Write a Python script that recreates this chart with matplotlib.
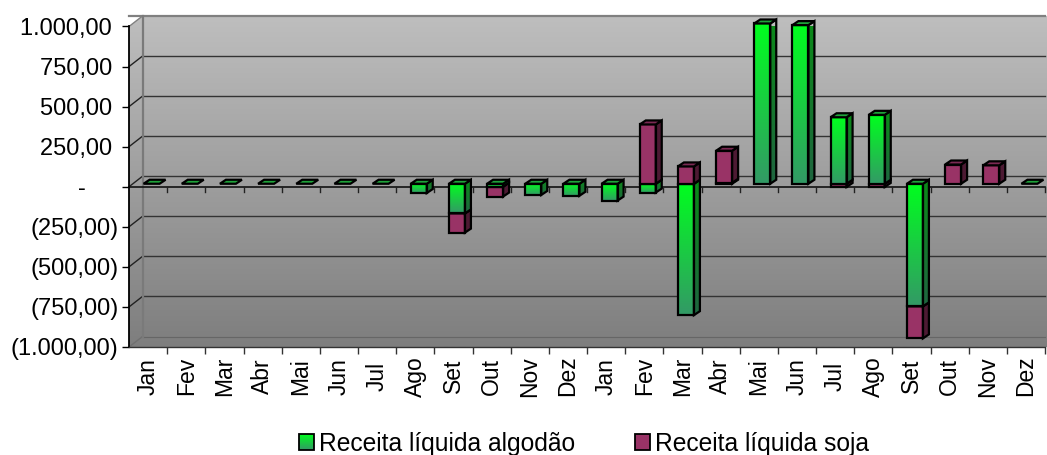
import numpy as np
import matplotlib
matplotlib.use('Agg')
import matplotlib.pyplot as plt
from matplotlib.patches import Polygon, Patch
from matplotlib.colors import LinearSegmentedColormap

plt.rcParams['font.family'] = ['Liberation Sans', 'DejaVu Sans']

months = ['Jan','Fev','Mar','Abr','Mai','Jun','Jul','Ago','Set','Out','Nov','Dez',
          'Jan','Fev','Mar','Abr','Mai','Jun','Jul','Ago','Set','Out','Nov','Dez']
algodao = [0,0,0,0,0,0,0,-58,-185,-18,-70,-75,-105,-55,-820,6,1000,990,415,430,-765,0,0,0]
soja    = [0,0,0,0,0,0,0,0,-120,-62,0,0,0,370,108,200,0,0,-20,-20,-200,120,115,0]
yticks = [1000,750,500,250,0,-250,-500,-750,-1000]
ylabels = ['1.000,00 ','750,00 ','500,00 ','250,00 ','-     ','(250,00)','(500,00)','(750,00)','(1.000,00)']
series_names = ['Receita líquida algodão', 'Receita líquida soja']

W, H = 1047, 455
L, R, T, B = 129, 1045, 26.5, 347
fig = plt.figure(figsize=(W/100, H/100), dpi=100)

# background layer in pixel coordinates: the 3D walls
bg = fig.add_axes([0, 0, 1, 1], zorder=0)
bg.set_xlim(0, W); bg.set_ylim(H, 0); bg.axis('off')
wall = LinearSegmentedColormap.from_list('wall', ['#BEBEBE', '#7E7E7E'])
DX, DY = 13.5, -10.5
grad = np.linspace(0, 1, 256)[:, None]
im = bg.imshow(grad, cmap=wall, extent=(L, W, B, T+DY), aspect='auto', zorder=1)
clip = Polygon([(L, T), (L+DX, T+DY), (W, T+DY), (W, B), (L, B)], closed=True,
               transform=bg.transData, fill=False, ec='none')
bg.add_patch(clip)
im.set_clip_path(clip)
bg.set_xlim(0, W); bg.set_ylim(H, 0)

ax = fig.add_axes([L/W, 1-B/H, (R-L)/W, (B-T)/H], zorder=2)
ax.patch.set_alpha(0)
n = len(months)
ax.set_xlim(0, n); ax.set_ylim(-1000, 1000)
px = n/(R-L)              # data x units per pixel
py = 2000/(B-T)           # data y units per pixel

# walls' grid
for v in yticks:
    bk = v - DY*py
    if v == 1000:
        ax.plot([0, n], [bk, bk], color='#808080', lw=1.6, clip_on=False, zorder=1)
    elif v == -1000:
        ax.plot([DX*px, n], [bk, bk], color='#666666', lw=0.8, clip_on=False, zorder=1)
    else:
        ax.plot([DX*px, n], [bk, bk], color='#333333', lw=1.0, clip_on=False, zorder=1)
    c = '#808080' if v == 1000 else ('#707070' if v == -1000 else '#222222')
    ax.plot([0, DX*px], [v, bk], color=c, lw=1.0, clip_on=False, zorder=1)
ax.plot([DX*px, DX*px], [-1000-DY*py, 1000-DY*py], color='#7A7A7A', lw=1.6, clip_on=False, zorder=1)
ax.plot([0, n], [0, 0], color='#111111', lw=1.2, zorder=1.5, clip_on=False)

green = LinearSegmentedColormap.from_list('g', ['#00FF1E', '#339966'])
green_s = LinearSegmentedColormap.from_list('gs', ['#0B8A18', '#1F6640'])
OFX, OFY = 3.5, 3.0      # bar front face vs axis plane
BW, BDX, BDY = 16, 6, 4  # bar width and depth in pixels
LW = 1.6

def segment(i, a, b, kind, z):
    """Draw a box between values a and b at category i."""
    x0 = i + 0.5 + (OFX - BW/2)*px
    x1 = x0 + BW*px
    lo, hi = min(a, b) + OFY*py, max(a, b) + OFY*py
    dx, dy = BDX*px, BDY*py
    front = [(x0, lo), (x1, lo), (x1, hi), (x0, hi)]
    side = [(x1, lo), (x1+dx, lo+dy), (x1+dx, hi+dy), (x1, hi)]
    if hi - lo > 0:
        if kind == 'g':
            ax.imshow(grad, cmap=green, extent=(x0, x1, lo, hi), aspect='auto', zorder=z, clip_on=False)
            simg = ax.imshow(grad, cmap=green_s, extent=(x1, x1+dx, lo, hi+dy), aspect='auto', zorder=z)
            sclip = Polygon(side, closed=True, transform=ax.transData, fill=False, ec='none')
            ax.add_patch(sclip)
            simg.set_clip_path(sclip)
        else:
            ax.add_patch(Polygon(front, fc='#993366', ec='none', zorder=z, clip_on=False))
            ax.add_patch(Polygon(side, fc='#4D1A33', ec='none', zorder=z, clip_on=False))
        ax.add_patch(Polygon(front, fc='none', ec='black', lw=LW, zorder=z+0.02, clip_on=False))
        ax.add_patch(Polygon(side, fc='none', ec='black', lw=LW, zorder=z+0.02, clip_on=False))
    top = '#1FA33A' if kind == 'g' else '#7A2952'
    ax.add_patch(Polygon([(x0, hi), (x1, hi), (x1+dx, hi+dy), (x0+dx, hi+dy)], fc=top, ec='black', lw=LW, zorder=z+0.03, clip_on=False))

for i, (g, s) in enumerate(zip(algodao, soja)):
    z = 3 + i*0.2
    # negative stack, then positive stack; algodão sits nearest the baseline
    g_neg = min(g, 0); s_neg = min(s, 0)
    if s_neg < 0:
        segment(i, g_neg, g_neg + s_neg, 's', z)
    if g_neg < 0:
        segment(i, 0, g_neg, 'g', z + 0.05)
    pos = 0
    if g > 0:
        segment(i, 0, g, 'g', z + 0.1); pos = g
    if s > 0:
        segment(i, pos, pos + s, 's', z + 0.15)
    if g == 0 and s == 0:
        segment(i, 0, 0, 'g', z)

ax.set_xlim(0, n); ax.set_ylim(-1000, 1000)
for sp in ['top', 'right']:
    ax.spines[sp].set_visible(False)
ax.spines['bottom'].set_color('#333333')
ax.spines['bottom'].set_linewidth(1.0)
ax.spines['left'].set_linewidth(1.3)
ax.set_yticks(yticks)
ax.set_yticklabels(ylabels, fontsize=17)
ax.tick_params(axis='y', length=5, width=1.0, pad=2.5)
ax.set_xticks(np.arange(n) + 0.5)
ax.set_xticklabels(months, fontsize=16.5, rotation=90, va='center', ha='center')
ax.tick_params(axis='x', which='major', length=0, pad=21)
ax.set_xticks(np.arange(1, n+1), minor=True)
ax.tick_params(axis='x', which='minor', length=5, width=1.0, color='#333333')
for k in range(1, n+1):
    ax.plot([k, k], [0, -5.5*py], color='#222222', lw=1.0, clip_on=False, zorder=1.6)

handles = [Patch(fc='none', ec='black', lw=1.3), Patch(fc='#993366', ec='black', lw=1.3)]
leg = fig.legend(handles=handles, labels=series_names, ncol=2, frameon=False, fontsize=17.7,
                 loc='center', bbox_to_anchor=(584/W, 1-443.5/H), handlelength=0.58, handleheight=0.6,
                 handletextpad=0.2, columnspacing=2.47)
fig.canvas.draw()
bb = leg.get_patches()[0].get_window_extent()
bg.imshow(grad, cmap=green, extent=(bb.x0, bb.x1, H-bb.y0, H-bb.y1), aspect='auto', zorder=2)
bg.set_xlim(0, W); bg.set_ylim(H, 0)
fig.savefig('out.png', dpi=100)
